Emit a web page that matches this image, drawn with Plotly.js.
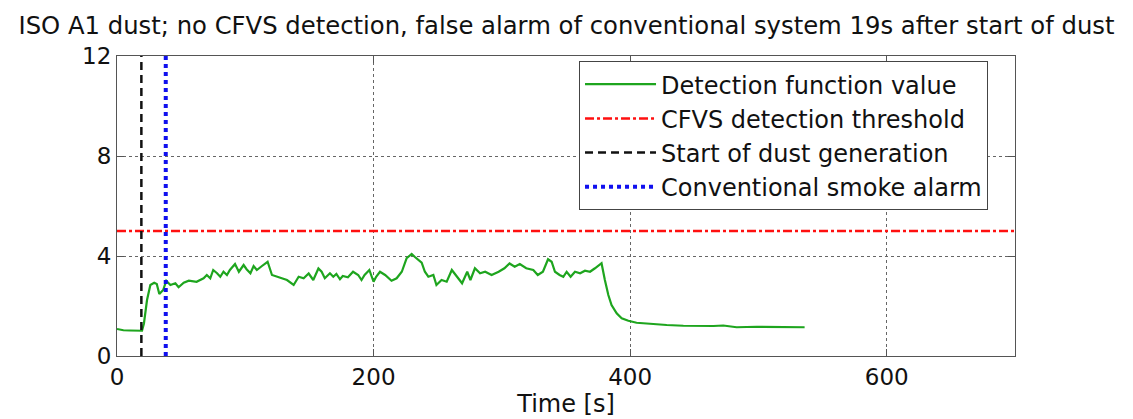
<!DOCTYPE html>
<html>
<head>
<meta charset="utf-8">
<script src="https://cdn.plot.ly/plotly-3.0.1.min.js"></script>
<style>html,body{margin:0;padding:0;background:#fff;}#chart{width:1133px;height:419px;}</style>
</head>
<body>
<div id="chart"></div>
<script>
// Time [s] and detection function values
const timeS = [0,5,10,15,19.5,21,23.4,26,29,31,33,36,38.4,41.6,45.5,48,52,56,62,67.5,70,72.7,75,78,80.5,83,85.7,88,92,95,98.7,101,104,106.5,109,113,117.4,120.8,124.7,128.6,132.5,137.7,141.6,145.5,149.4,153,157,159.5,162,166,168.6,171,173.8,176,180,184,188,190.6,193,196.7,200,202,205,209,214,218,222,225.8,229.7,232,235,237.5,240,242.7,246.6,249,253,257,261,265,269,273,275.5,279,283,287,292,297.5,302,306,310,314,319,324.5,328,332,336,338.8,341.4,345,347.9,350.5,353.6,357,361,364.8,368.7,372.6,376,377.7,380.3,383,385.5,389.5,393.4,398.6,405,415.5,428.5,441.5,454.5,465,472.6,483,498.6,514,524.5,536];
const detectionValue = [1.08,1.03,1.02,1.01,1.01,1.3,2.24,2.84,2.93,2.88,2.48,2.64,3.01,2.84,2.91,2.75,2.93,3.01,2.97,3.11,3.24,3.11,3.44,3.31,3.17,3.37,3.24,3.44,3.68,3.37,3.64,3.47,3.31,3.6,3.44,3.6,3.77,3.24,3.17,3.11,3.04,2.84,3.17,3.11,3.3,3.04,3.5,3.37,3.11,3.31,3.17,3.28,3.07,3.2,3.15,3.37,3.24,3.04,3.24,3.44,2.97,3.17,3.37,3.24,3.01,3.11,3.37,3.91,4.08,3.97,3.84,3.73,3.37,3.17,3.24,2.84,3.04,2.97,3.44,3.17,2.91,3.37,3.04,3.51,3.31,3.37,3.24,3.37,3.51,3.7,3.57,3.68,3.51,3.44,3.24,3.37,3.87,3.77,3.37,3.24,3.17,3.37,3.17,3.37,3.31,3.41,3.37,3.51,3.64,3.71,3.04,2.44,2.04,1.71,1.51,1.41,1.33,1.28,1.24,1.21,1.19,1.2,1.22,1.15,1.17,1.17,1.15,1.15];
const threshold = 5;
const dustStart = 19;
const alarmTime = 38;
const xRange = [0, 700];
const yRange = [0, 12];
const xTicks = [0, 200, 400, 600];
const yTicks = [0, 4, 8, 12];
const seriesNames = ["Detection function value","CFVS detection threshold","Start of dust generation","Conventional smoke alarm"];

const FONT = "DejaVu Sans, Liberation Sans, Arial, sans-serif";
const traces = [
  {x: timeS, y: detectionValue, mode: "lines", name: seriesNames[0],
   line: {color: "#1ea51e", width: 2.2}},
  {x: xRange, y: [threshold, threshold], mode: "lines", name: seriesNames[1],
   line: {color: "#ff1010", width: 2.5, dash: "9px,3px,3px,3px"}},
  {x: [dustStart, dustStart], y: yRange, mode: "lines", name: seriesNames[2],
   line: {color: "#111111", width: 2.5, dash: "8px,5px"}},
  {x: [alarmTime, alarmTime], y: yRange, mode: "lines", name: seriesNames[3],
   line: {color: "#1010ee", width: 4, dash: "4px,4px"}}
];
const axisCommon = {
  showline: true, mirror: "ticks", linecolor: "#555", linewidth: 1,
  ticks: "inside", ticklen: 7, tickcolor: "#555",
  showgrid: true, gridcolor: "#666", griddash: "dot", gridwidth: 1,
  zeroline: false, tickfont: {family: FONT, size: 23, color: "#111"}
};
const layout = {
  width: 1133, height: 419,
  margin: {l: 117, r: 118, t: 56, b: 63},
  paper_bgcolor: "#fff", plot_bgcolor: "#fff",
  font: {family: FONT, color: "#111"},
  title: {text: "ISO A1 dust; no CFVS detection, false alarm of conventional system 19s after start of dust",
          font: {family: FONT, size: 24.3, color: "#111"}, x: 0.5, xanchor: "center",
          yref: "container", y: 0.94, yanchor: "middle"},
  xaxis: Object.assign({}, axisCommon, {range: xRange, tickvals: xTicks, ticktext: xTicks.map(String),
          title: {text: "Time [s]", font: {family: FONT, size: 24, color: "#111"}, standoff: 4}}),
  yaxis: Object.assign({}, axisCommon, {range: yRange, tickvals: yTicks, ticktext: yTicks.map(String)}),
  showlegend: true,
  legend: {x: 0.5145, xanchor: "left", y: 0.983, yanchor: "top", bgcolor: "#fff",
           bordercolor: "#444", borderwidth: 1, font: {family: FONT, size: 24, color: "#111"},
           itemwidth: 71, entrywidth: 420, entrywidthmode: "pixels"}
};
Plotly.newPlot("chart", traces, layout, {staticPlot: true, displayModeBar: false});
</script>
</body>
</html>
